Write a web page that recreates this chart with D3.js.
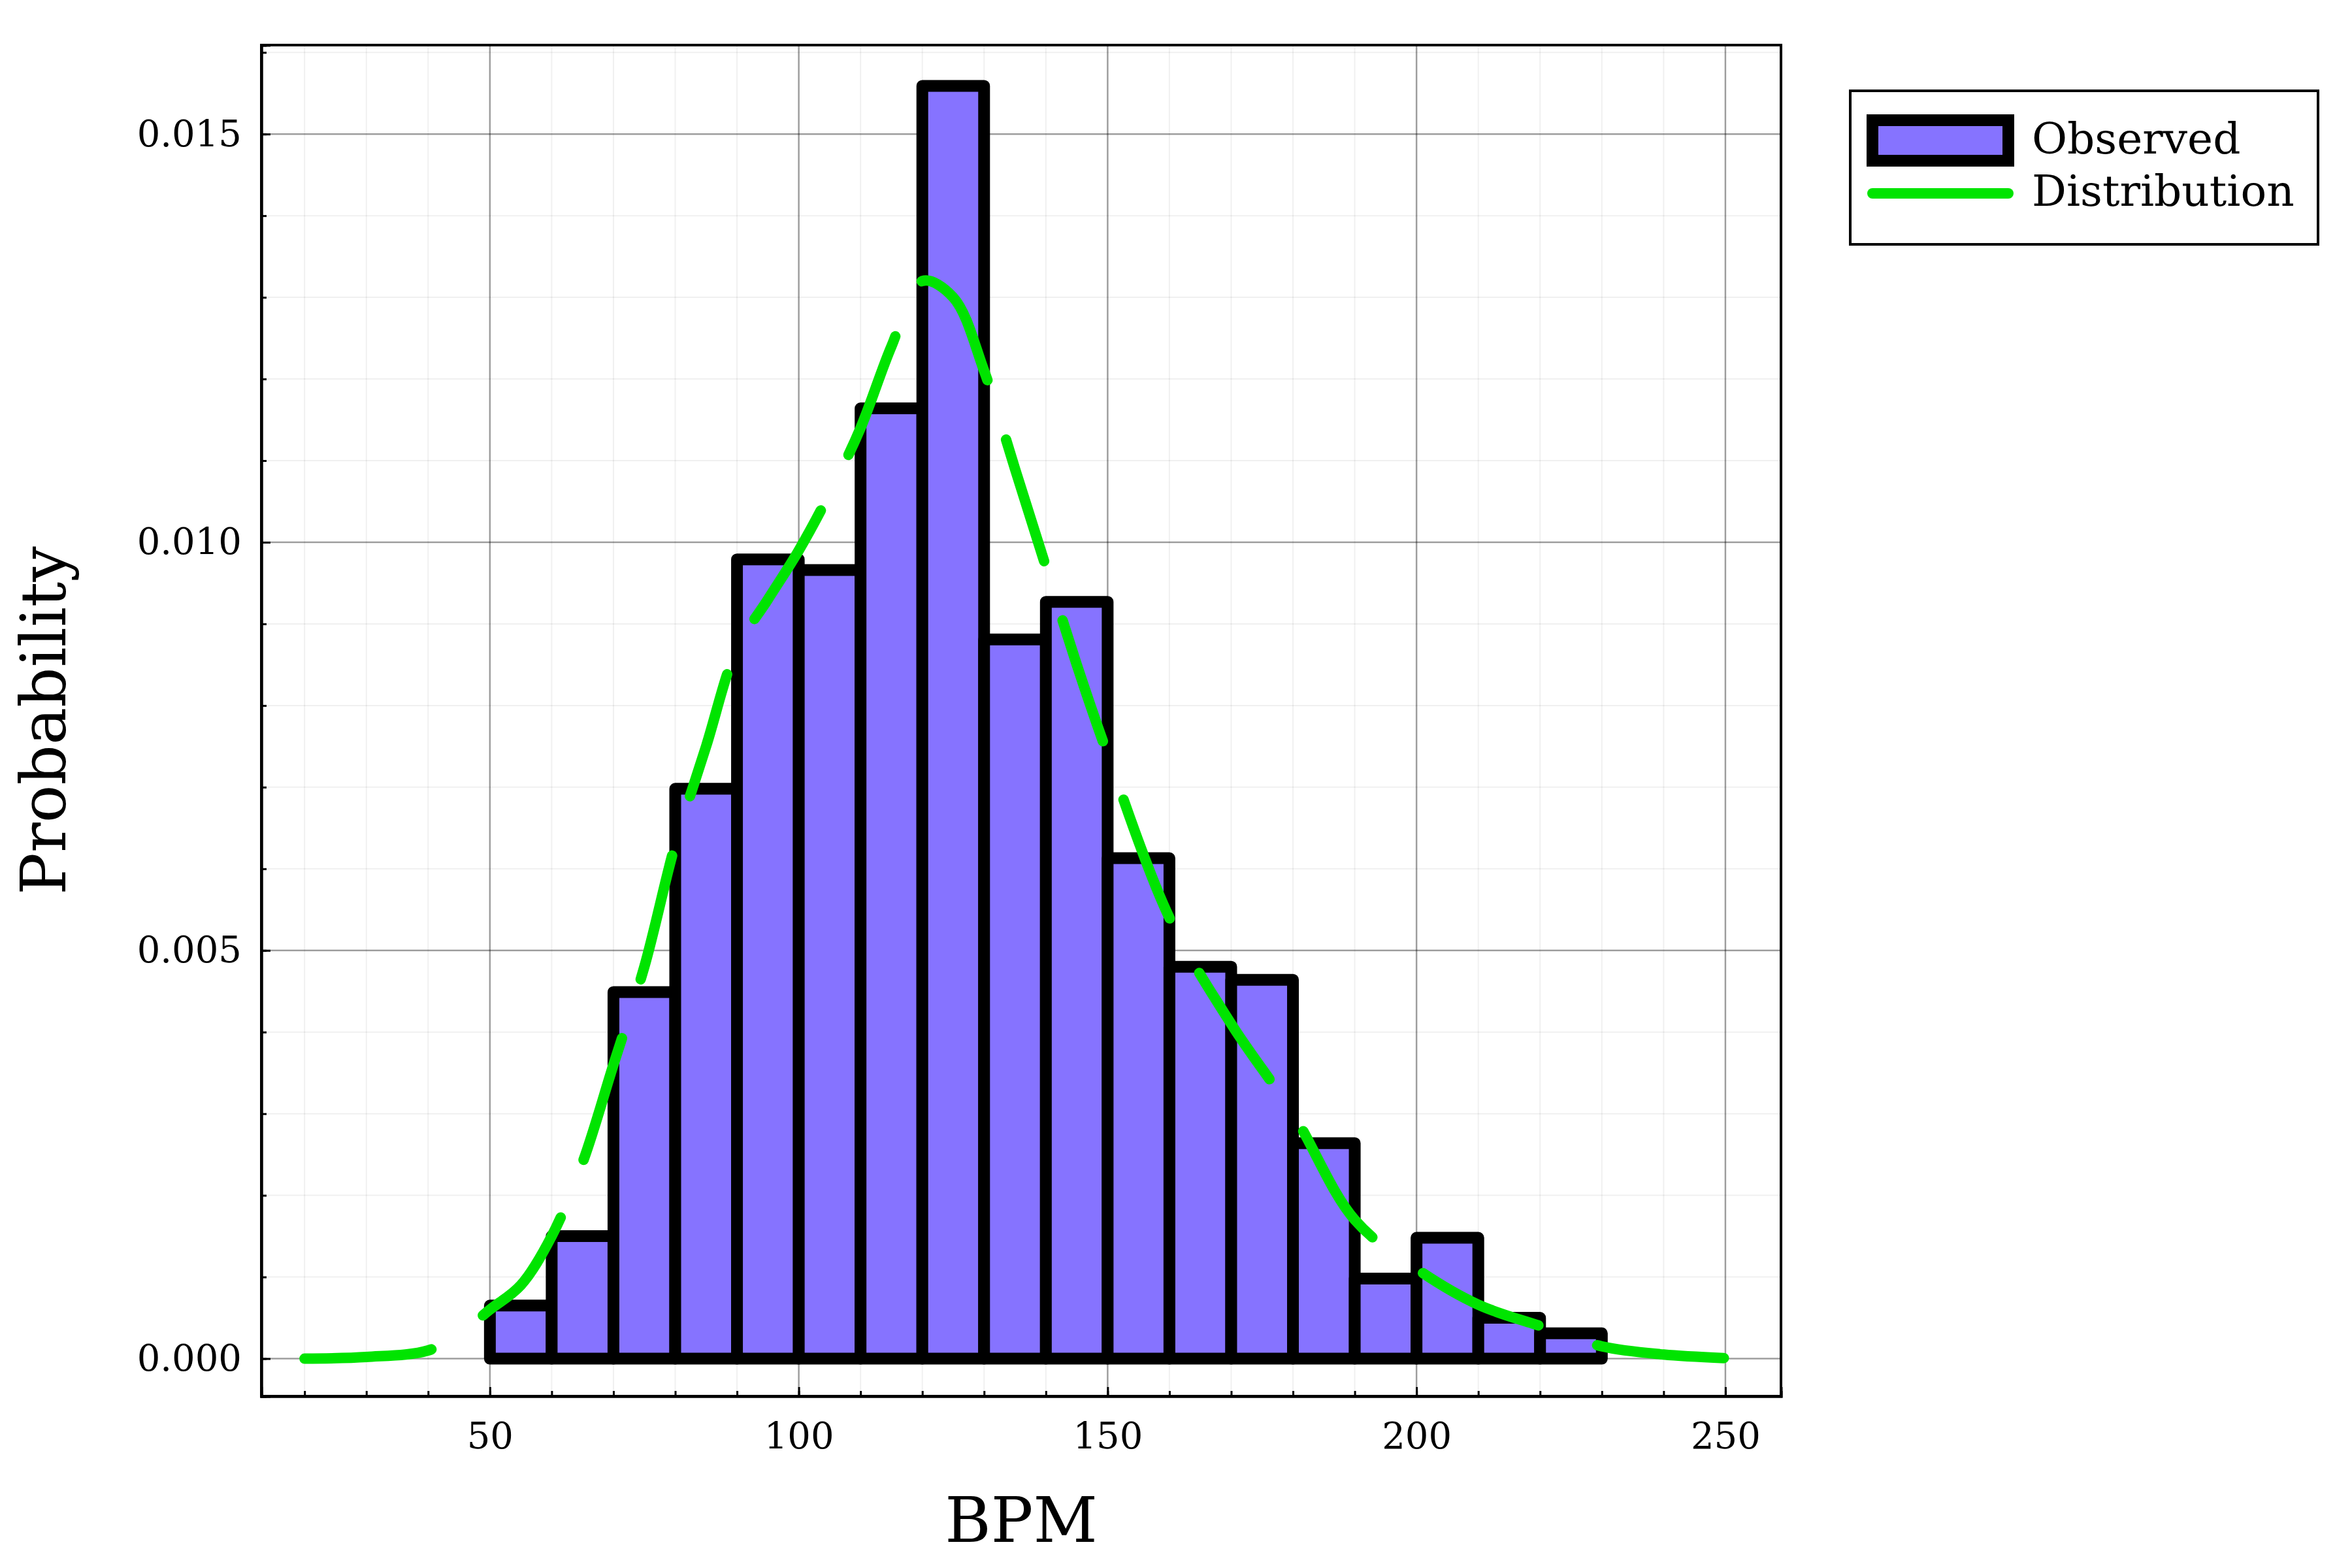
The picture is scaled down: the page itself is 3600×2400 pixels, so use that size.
<!DOCTYPE html>
<html><head><meta charset="utf-8">
<script src="https://cdn.jsdelivr.net/npm/d3@7"></script>
<style>body{margin:0;background:#fff}</style>
</head><body>
<script>
// histogram bins (BPM) and observed probability density
var binStart = [50,60,70,80,90,100,110,120,130,140,150,160,170,180,190,200,210,220];
var observed = [0.00065,0.0015,0.00449,0.00698,0.00979,0.00966,0.01164,0.01559,0.00881,0.00927,0.00613,0.0048,0.00464,0.00264,0.00098,0.00148,0.0005,0.00031];
var binWidth = 10;
// fitted distribution curve
var distX = [20,30,40,45,50,55,60,65,70,75,80,85,90,95,100,105,110,115,120,125,130,135,140,145,150,160,170,180,190,200,210,220,230,240,252];
var distY = [0,0.00002,0.0001,0.0003,0.0006,0.0009,0.0015,0.0024,0.0036,0.0048,0.0063,0.0075,0.0087,0.0093,0.0099,0.0106,0.0114,0.0124,0.0132,0.0130,0.0121,0.0109,0.0097,0.0085,0.0074,0.0054,0.0041,0.0030,0.0017,0.0011,0.00066,0.0004,0.00015,0.00005,0];
var xTicks = [50,100,150,200,250];
var yTicks = [0,0.005,0.01,0.015];

var W=3600,H=2400, L=400,R=2726,T=69,B=2137;
var svg=d3.select('body').append('svg').attr('width',W).attr('height',H);
var x=d3.scaleLinear().domain([13,259]).range([L,R]);
var y=d3.scaleLinear().domain([-0.00046,0.01609]).range([B,T]);
var font='"DejaVu Serif","Liberation Serif",serif';

var g=svg.append('g');
// minor grid
g.selectAll('.mx').data(d3.range(20,260,10)).enter().append('line')
 .attr('x1',d=>x(d)).attr('x2',d=>x(d)).attr('y1',T).attr('y2',B).attr('stroke','#000').attr('stroke-opacity',0.06).attr('stroke-width',2);
g.selectAll('.my').data(d3.range(0,0.0161,0.001)).enter().append('line')
 .attr('y1',d=>y(d)).attr('y2',d=>y(d)).attr('x1',L).attr('x2',R).attr('stroke','#000').attr('stroke-opacity',0.06).attr('stroke-width',2);
// major grid
g.selectAll('.gx').data(xTicks).enter().append('line')
 .attr('x1',d=>x(d)).attr('x2',d=>x(d)).attr('y1',T).attr('y2',B).attr('stroke','#000').attr('stroke-opacity',0.35).attr('stroke-width',2.5);
g.selectAll('.gy').data(yTicks).enter().append('line')
 .attr('y1',d=>y(d)).attr('y2',d=>y(d)).attr('x1',L).attr('x2',R).attr('stroke','#000').attr('stroke-opacity',0.35).attr('stroke-width',2.5);

// bars
g.selectAll('rect.bar').data(observed).enter().append('rect')
 .attr('x',(d,i)=>x(binStart[i])).attr('width',(d,i)=>x(binStart[i]+binWidth)-x(binStart[i]))
 .attr('y',d=>y(d)).attr('height',d=>y(0)-y(d))
 .attr('fill','#8673ff').attr('stroke','#000').attr('stroke-width',18).attr('stroke-linejoin','round');

// distribution
var line=d3.line().curve(d3.curveCatmullRom).x((d,i)=>x(distX[i])).y(d=>y(d));
g.append('path').attr('d',line(distY)).attr('fill','none').attr('stroke','#00e400')
 .attr('stroke-width',16).attr('stroke-linecap','round').attr('stroke-dasharray','195,95');

// frame
svg.append('rect').attr('x',L).attr('y',T).attr('width',R-L).attr('height',B-T).attr('fill','none').attr('stroke','#000').attr('stroke-width',4);

// axes
var xa=svg.append('g').attr('transform','translate(0,'+B+')')
 .call(d3.axisBottom(x).tickValues(xTicks).tickFormat(d3.format('d')).tickSize(-14).tickPadding(40));
xa.selectAll('.tick:first-of-type')
var xm=svg.append('g').attr('transform','translate(0,'+B+')')
 .call(d3.axisBottom(x).tickValues(d3.range(20,260,10)).tickFormat('').tickSize(-8));
var ya=svg.append('g').attr('transform','translate('+L+',0)')
 .call(d3.axisLeft(y).tickValues(yTicks).tickFormat(d3.format('.3f')).tickSize(-14).tickPadding(30));
var ym=svg.append('g').attr('transform','translate('+L+',0)')
 .call(d3.axisLeft(y).tickValues(d3.range(0,0.0161,0.001)).tickFormat('').tickSize(-8));
[xa,xm,ya,ym].forEach(a=>{a.select('.domain').attr('stroke','#000').attr('stroke-width',4);
 a.selectAll('.tick line').attr('stroke','#000').attr('stroke-width',3);
 a.selectAll('text').attr('font-family',font).attr('font-size',56).attr('fill','#000');});

svg.append('text').attr('x',(L+R)/2).attr('y',2360).attr('text-anchor','middle')
 .attr('font-family',font).attr('font-size',96).text('BPM');
svg.append('text').attr('transform','translate(100,'+((T+B)/2)+') rotate(-90)').attr('text-anchor','middle')
 .attr('font-family',font).attr('font-size',96).text('Probability');

// legend
var lg=svg.append('g').attr('transform','translate(2832,139)');
lg.append('rect').attr('width',716).attr('height',235).attr('fill','#fff').attr('stroke','#000').attr('stroke-width',4);
lg.append('rect').attr('x',34).attr('y',45).attr('width',208).attr('height',62).attr('fill','#8673ff').attr('stroke','#000').attr('stroke-width',18);
lg.append('line').attr('x1',34).attr('x2',242).attr('y1',157).attr('y2',157).attr('stroke','#00e400').attr('stroke-width',16).attr('stroke-linecap','round');
lg.append('text').attr('x',278).attr('y',96).attr('font-family',font).attr('font-size',66).text('Observed');
lg.append('text').attr('x',278).attr('y',176).attr('font-family',font).attr('font-size',66).text('Distribution');
</script>
</body></html>
